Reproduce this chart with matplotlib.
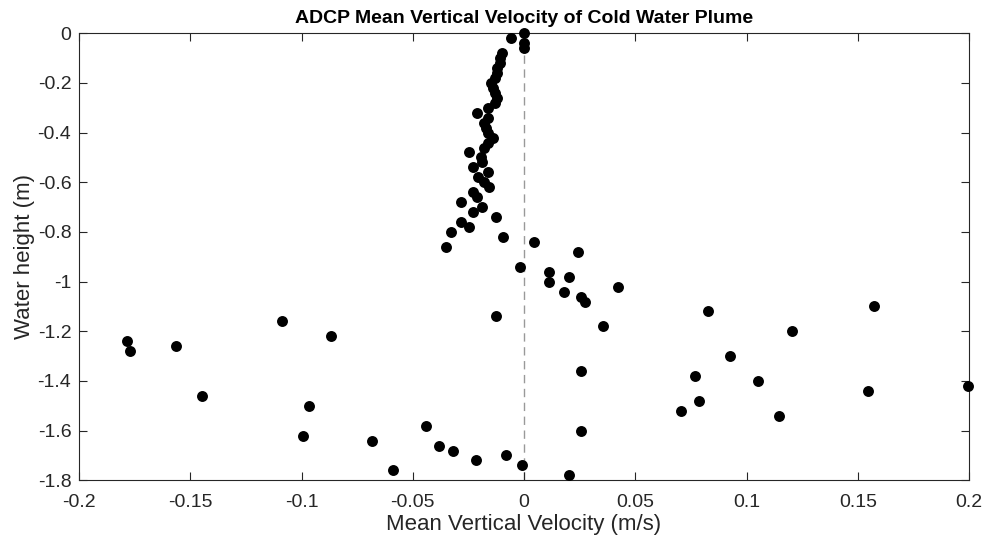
import matplotlib
matplotlib.use("Agg")
import matplotlib.pyplot as plt
import numpy as np

# Mean vertical velocity (m/s) and water height (m)
height = [0.0, -0.02, -0.04, -0.06, -0.08, -0.10, -0.12, -0.14, -0.16, -0.18,
          -0.20, -0.22, -0.24, -0.26, -0.28, -0.30, -0.32, -0.34, -0.36, -0.38,
          -0.40, -0.42, -0.44, -0.46, -0.48, -0.50, -0.52, -0.54, -0.56, -0.58,
          -0.60, -0.62, -0.64, -0.66, -0.68, -0.70, -0.72, -0.74, -0.76, -0.78,
          -0.80, -0.82, -0.84, -0.86, -0.88, -0.94, -0.96, -0.98, -1.00, -1.02,
          -1.04, -1.06, -1.08, -1.10, -1.12, -1.14, -1.16, -1.18, -1.20, -1.22,
          -1.24, -1.26, -1.28, -1.30, -1.36, -1.38, -1.40, -1.42, -1.44, -1.46,
          -1.48, -1.50, -1.52, -1.54, -1.58, -1.60, -1.62, -1.64, -1.66, -1.68,
          -1.70, -1.72, -1.74, -1.76, -1.78]
velocity = [0.000, -0.006, 0.000, 0.000, -0.010, -0.011, -0.011, -0.012, -0.012, -0.013,
            -0.015, -0.014, -0.013, -0.012, -0.013, -0.016, -0.021, -0.016, -0.018, -0.017,
            -0.016, -0.014, -0.016, -0.018, -0.0246, -0.0194, -0.0189, -0.0227, -0.0164, -0.0206,
            -0.0179, -0.0159, -0.0227, -0.0209, -0.0284, -0.0189, -0.0231, -0.0126, -0.0284, -0.0246,
            -0.0329, -0.0093, 0.0047, -0.0351, 0.0242, -0.0017, 0.0111, 0.0200, 0.0111, 0.0423,
            0.0179, 0.0257, 0.0275, 0.1572, 0.0826, -0.0126, -0.1087, 0.0357, 0.1203, -0.0866,
            -0.1785, -0.1563, -0.1770, 0.0925, 0.0255, 0.0767, 0.1053, 0.1994, 0.1546, -0.1447,
            0.0785, -0.0967, 0.0707, 0.1147, -0.0440, 0.0254, -0.0994, -0.0685, -0.0383, -0.0321,
            -0.0083, -0.0216, -0.0010, -0.0587, 0.0204]

xticks = [-0.2, -0.15, -0.1, -0.05, 0, 0.05, 0.1, 0.15, 0.2]
xticklabels = ["-0.2", "-0.15", "-0.1", "-0.05", "0", "0.05", "0.1", "0.15", "0.2"]
yticks = [0, -0.2, -0.4, -0.6, -0.8, -1.0, -1.2, -1.4, -1.6, -1.8]
yticklabels = ["0", "-0.2", "-0.4", "-0.6", "-0.8", "-1", "-1.2", "-1.4", "-1.6", "-1.8"]

plt.rcParams['font.family'] = ['Liberation Sans', 'DejaVu Sans']
axc = (0.15, 0.15, 0.15)

fig = plt.figure(figsize=(9.89, 5.46), dpi=100)
ax = fig.add_axes([79/989, 1 - 480.3/546, (969 - 79)/989, (480.3 - 33.3)/546])

ax.axvline(0, color=(0.6, 0.6, 0.6), linestyle=(0, (6, 4)), linewidth=1.0, zorder=1)
ax.scatter(velocity, height, s=62, color='black', zorder=3, clip_on=False, linewidths=0)

ax.set_xlim(-0.2, 0.2)
ax.set_ylim(-1.8, 0)
ax.set_xticks(xticks)
ax.set_xticklabels(xticklabels)
ax.set_yticks(yticks)
ax.set_yticklabels(yticklabels)
ax.tick_params(direction='in', length=6, width=0.8, top=True, right=True,
               colors=axc, labelsize=14, labelcolor=axc)
ax.tick_params(axis='x', pad=10)
ax.tick_params(axis='y', pad=5.5)
for sp in ax.spines.values():
    sp.set_color(axc)
    sp.set_linewidth(0.8)

ax.set_xlabel("Mean Vertical Velocity (m/s)", fontsize=16, color=axc, labelpad=2)
ax.set_ylabel("Water height (m)", fontsize=16, color=axc, labelpad=2)
ax.set_title("ADCP Mean Vertical Velocity of Cold Water Plume", fontsize=14,
             fontweight='bold', color='black', pad=7.2)

fig.savefig("out.png", dpi=100)
